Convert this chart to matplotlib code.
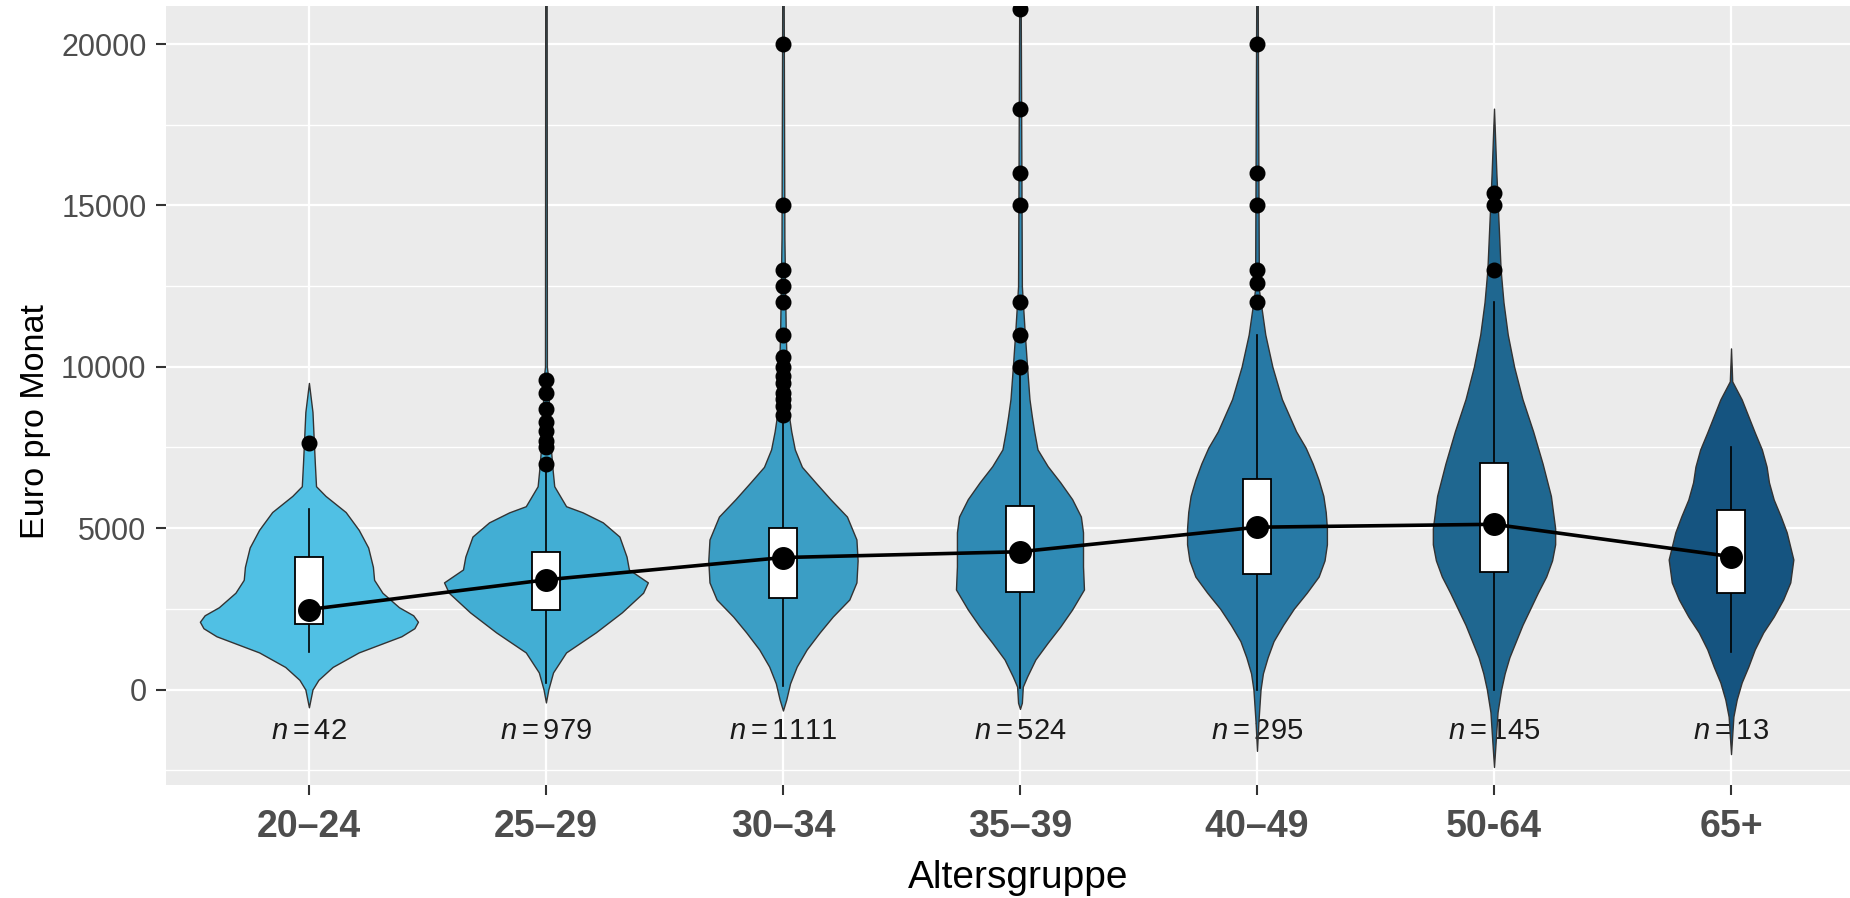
import matplotlib
matplotlib.use('Agg')
import matplotlib.pyplot as plt
from matplotlib.patches import Rectangle
import numpy as np

plt.rcParams['font.family'] = ['Liberation Sans', 'DejaVu Sans']
plt.rcParams['mathtext.fontset'] = 'custom'
plt.rcParams['mathtext.rm'] = 'Liberation Sans'
plt.rcParams['mathtext.it'] = 'Liberation Sans:italic'

# Altersgruppen und Kennzahlen
groups = ['20–24', '25–29', '30–34', '35–39', '40–49', '50-64', '65+']
n_obs = [42, 979, 1111, 524, 295, 145, 13]
means = [2480, 3400, 4090, 4270, 5030, 5120, 4120]
q1 = [2020, 2450, 2850, 3010, 3570, 3630, 3000]
q3 = [4120, 4250, 5010, 5690, 6520, 7030, 5550]
whisk_lo = [1150, 200, 100, 50, 0, 0, 1150]
whisk_hi = [5580, 6950, 8250, 9750, 11000, 12000, 7530]
outliers = [
    [7650],
    [7000, 7500, 7700, 8000, 8300, 8700, 9200, 9600],
    [20000, 15000, 13000, 12500, 12000, 11000, 10300, 10000, 9700, 9500, 9200, 9000, 8800, 8500],
    [21100, 18000, 16000, 15000, 12000, 11000, 10000],
    [20000, 16000, 15000, 13000, 12600, 12000],
    [15400, 15000, 13000],
    [],
]

# Violinen: Stützstellen (Euro) und halbe Breite (in Kategorie-Einheiten)
violin_levels = [
    [-550, 0, 300, 700, 1150, 1650, 1900, 2100, 2300, 2550, 3000, 3400, 3800, 4400, 4950, 5500, 6000, 6300, 7000, 8600, 9500],
    [-400, 0, 530, 1150, 1770, 2390, 3000, 3320, 3720, 4120, 4740, 5180, 5490, 5680, 6300, 6820, 8000, 9600, 10000, 21500],
    [-650, -310, 190, 710, 1240, 1770, 2260, 2790, 3320, 4000, 4650, 5360, 5900, 6420, 6900, 7440, 8000, 8500, 9500, 11000, 14000, 21500],
    [-600, -410, 90, 400, 930, 1450, 1950, 2480, 3100, 3810, 4870, 5360, 5900, 6420, 6920, 7440, 8000, 8470, 9000, 10000, 11070, 12500, 21500],
    [-1900, -1000, 0, 500, 1000, 1500, 2000, 2500, 3000, 3500, 4000, 4500, 5000, 5500, 6000, 6500, 7000, 7500, 8000, 9000, 10000, 11000, 12400, 21500],
    [-2400, -1500, -700, 0, 500, 1000, 2000, 3000, 3500, 4000, 4500, 5000, 6000, 7000, 8000, 9000, 10000, 11000, 12000, 13000, 15000, 16000, 18000],
    [-2000, -840, -310, 220, 710, 1240, 1770, 2260, 2790, 3320, 4030, 4870, 5360, 5890, 6420, 6910, 7440, 7970, 8990, 9550, 10570],
]
violin_halfwidth = [
    [0, 0.015, 0.04, 0.10, 0.21, 0.39, 0.445, 0.46, 0.44, 0.38, 0.31, 0.275, 0.27, 0.25, 0.21, 0.155, 0.07, 0.03, 0.025, 0.015, 0],
    [0, 0.01, 0.03, 0.085, 0.21, 0.32, 0.41, 0.43, 0.35, 0.34, 0.31, 0.24, 0.155, 0.085, 0.035, 0.028, 0.015, 0.01, 0.004, 0.003],
    [0, 0.014, 0.03, 0.058, 0.10, 0.155, 0.21, 0.28, 0.31, 0.315, 0.31, 0.27, 0.2, 0.137, 0.08, 0.05, 0.035, 0.025, 0.018, 0.012, 0.006, 0.003],
    [0, 0.008, 0.012, 0.03, 0.065, 0.117, 0.17, 0.22, 0.27, 0.266, 0.266, 0.257, 0.22, 0.17, 0.117, 0.074, 0.06, 0.05, 0.04, 0.03, 0.02, 0.008, 0.003],
    [0, 0.006, 0.015, 0.025, 0.045, 0.07, 0.11, 0.155, 0.21, 0.26, 0.285, 0.295, 0.295, 0.29, 0.28, 0.26, 0.235, 0.205, 0.165, 0.105, 0.065, 0.035, 0.008, 0.003],
    [0, 0.008, 0.015, 0.03, 0.045, 0.065, 0.12, 0.185, 0.22, 0.245, 0.258, 0.258, 0.24, 0.205, 0.165, 0.12, 0.085, 0.058, 0.04, 0.028, 0.016, 0.01, 0],
    [0, 0.01, 0.024, 0.045, 0.073, 0.10, 0.136, 0.18, 0.22, 0.25, 0.263, 0.235, 0.21, 0.18, 0.16, 0.15, 0.13, 0.10, 0.045, 0.005, 0],
]
colors = ['#50C0E4', '#42AED4', '#3B9EC5', '#2F8AB4', '#2779A5', '#1F6790', '#155480']

y_ticks = [0, 5000, 10000, 15000, 20000]
y_minor = [-2500, 2500, 7500, 12500, 17500]

fig = plt.figure(figsize=(18.5, 8.98), dpi=100)
ax = fig.add_axes([166 / 1850, 113 / 898, 1684 / 1850, 779 / 898])
ax.set_facecolor('#EBEBEB')
ax.set_axisbelow(True)

pos = np.arange(1, len(groups) + 1)

for i in range(len(groups)):
    x = pos[i]
    lv = np.array(violin_levels[i])
    hw = np.array(violin_halfwidth[i])
    ax.fill_betweenx(lv, x - hw, x + hw, facecolor=colors[i], edgecolor='#333333',
                     linewidth=1.0, zorder=2)
    ax.plot([x, x], [whisk_lo[i], whisk_hi[i]], color='black', lw=1.2, zorder=3)
    ax.add_patch(Rectangle((x - 0.06, q1[i]), 0.12, q3[i] - q1[i], facecolor='white',
                           edgecolor='black', lw=1.3, zorder=4))
    if outliers[i]:
        ax.plot([x] * len(outliers[i]), outliers[i], 'o', color='black', ms=10.5, zorder=5)
    ax.text(x, -1300, rf'$n = {n_obs[i]}$', ha='center', va='center', fontsize=21,
            color='#1A1A1A', zorder=1.5)

ax.plot(pos, means, '-', color='black', lw=2.6, zorder=6)
ax.plot(pos, means, 'o', color='black', ms=15.5, zorder=7)

ax.set_xlim(0.397, 7.502)
ax.set_ylim(-2958, 21180)
ax.set_xticks(pos)
ax.set_xticklabels(groups, fontsize=27, fontweight='bold', color='#4D4D4D')
ax.set_yticks(y_ticks)
ax.set_yticklabels([str(v) for v in y_ticks], fontsize=22, color='#4D4D4D')
ax.set_yticks(y_minor, minor=True)
ax.tick_params(which='minor', length=0)
ax.tick_params(axis='both', which='major', length=7, width=1.5, color='#333333')
ax.tick_params(axis='x', pad=10)
ax.tick_params(axis='y', pad=7)
ax.grid(which='major', color='white', lw=1.6)
ax.grid(which='minor', axis='y', color='white', lw=1.0)
for s in ax.spines.values():
    s.set_visible(False)

fig.text(1018 / 1850, 1 - 888 / 898, 'Altersgruppe', ha='center', va='baseline', fontsize=28)
fig.text(36 / 1850, 0.531, 'Euro pro Monat', rotation=90, ha='center', va='center', fontsize=24.6)

fig.savefig('out.png', dpi=100)
